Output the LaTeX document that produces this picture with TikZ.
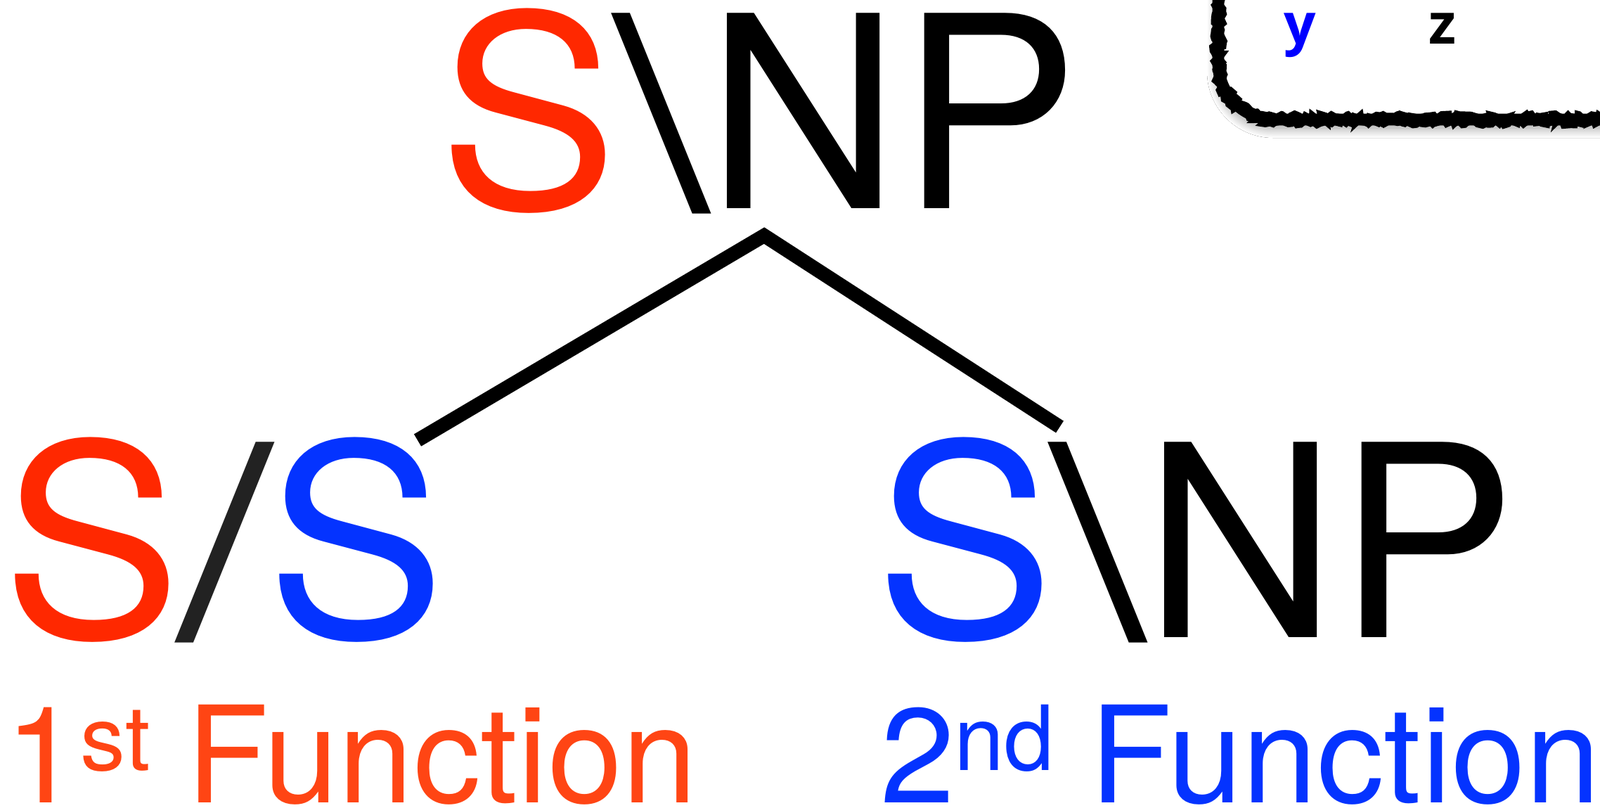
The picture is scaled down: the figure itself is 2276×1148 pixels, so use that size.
\documentclass[tikz,border=0pt]{standalone}
\usepackage{fontspec}
\setmainfont{TeX Gyre Heros}
\newfontfamily\boxfont{Open Sans}
\usetikzlibrary{decorations.pathmorphing,shadows.blur}
\definecolor{catred}{RGB}{255,40,0}
\definecolor{catblue}{RGB}{4,51,255}
\definecolor{lblred}{RGB}{255,69,20}
\definecolor{slashgray}{RGB}{34,34,34}
\tikzset{
  big/.style={inner sep=0pt, anchor=base west, font=\fontsize{95.25}{100}\selectfont},
  bigslash/.style={inner sep=0pt, anchor=base, xscale=1.28, transform shape, font=\fontsize{95.25}{100}\selectfont},
  lbl/.style={inner sep=0pt, anchor=base west, font=\fontsize{47.75}{50}\selectfont},
  suptxt/.style={inner sep=0pt, anchor=base west, font=\fontsize{32}{34}\selectfont},
  boxtxt/.style={inner sep=0pt, anchor=base west, font=\boxfont\bfseries\fontsize{20}{22}\selectfont},
  branch/.style={line width=5pt, line join=miter, line cap=butt},
  rough/.style={decorate, decoration={random steps, segment length=1.1pt, amplitude=0.9pt}}
}
\begin{document}
\begin{tikzpicture}[x=0.25pt,y=-0.25pt]
\useasboundingbox (0,0) rectangle (2276,1148);
\fill[white] (0,0) rectangle (2276,1148);
\begin{scope}
\clip (0,0) rectangle (2276,1148);
% sketchy box in the top right corner
\fill[white, blur shadow={shadow xshift=-0.5pt, shadow yshift=-3pt, shadow blur radius=3.5pt, shadow blur steps=40, shadow opacity=40}]
  (1733,-200) -- (1733,90) .. controls (1733,134) and (1769,170) .. (1813,170) -- (2500,170) -- (2500,-200) -- cycle;
\draw[line width=4.2pt]
  (1733,-200) -- (1733,90) .. controls (1733,134) and (1769,170) .. (1813,170) -- (2500,170);
\draw[line width=1.3pt, rough]
  (1726,-200) -- (1726,90) .. controls (1726,138) and (1765,177) .. (1813,177) -- (2500,177);
\draw[line width=1.3pt, rough]
  (1740,-200) -- (1740,90) .. controls (1740,130) and (1773,163) .. (1813,163) -- (2500,163);
\end{scope}
\node[boxtxt, text=blue] (yv) at (1826,62) {y};
\node[boxtxt] (zv) at (2032,62) {z};

% top category
\node[big, text=catred] (tS) at (624,296) {S};
\node[bigslash] (tbs) at (941.5,296) {\textbackslash};
\node[big] (tNP) at (1005,296) {NP};

% bottom left category
\node[big, text=catred] (lS1) at (2.3,906) {S};
\node[bigslash, text=slashgray] (lsl) at (320,906) {/};
\node[big, text=catblue] (lS2) at (379,906) {S};

% bottom right category
\node[big, text=catblue] (rS) at (1245,906) {S};
\node[bigslash] (rbs) at (1562.5,906) {\textbackslash};
\node[big] (rNP) at (1627,906) {NP};

% branches
\coordinate (apex) at (1087,335);
\coordinate (lend) at (594,626);
\coordinate (rend) at (1507.5,607);
\draw[branch] (lend) -- (apex) -- (rend);

% labels
\node[lbl, text=lblred] (one) at (6.7,1141) {1};
\node[suptxt, text=lblred] (st) at (114,1095) {st};
\node[lbl, text=lblred] (f1) at (264.6,1141) {Function};
\node[lbl, text=catblue] (two) at (1252,1141) {2};
\node[suptxt, text=catblue] (nd) at (1357,1095) {nd};
\node[lbl, text=catblue] (f2) at (1550,1141) {Function};
\end{tikzpicture}
\end{document}
